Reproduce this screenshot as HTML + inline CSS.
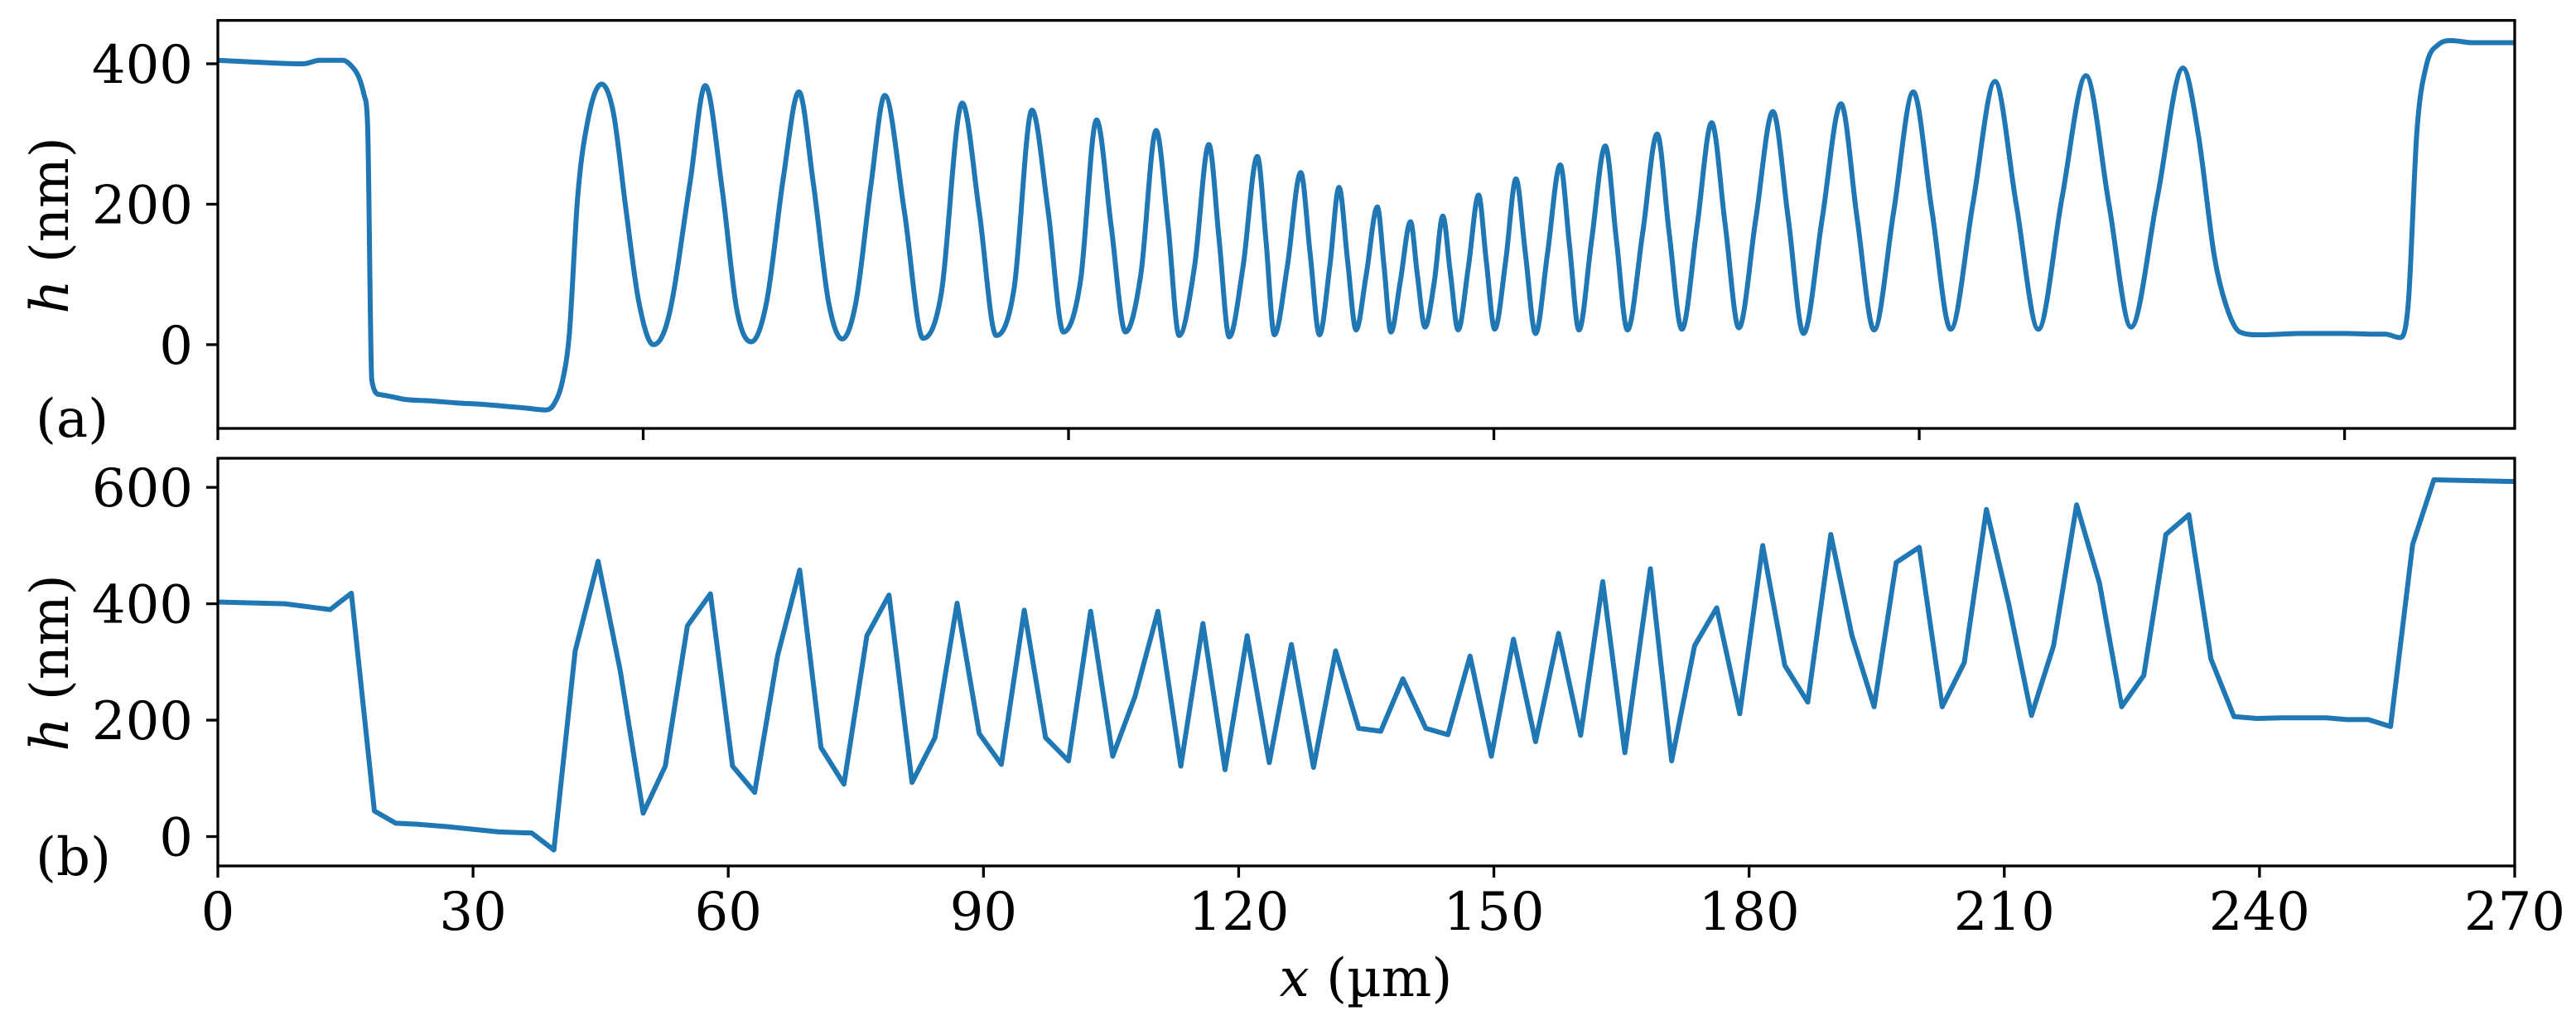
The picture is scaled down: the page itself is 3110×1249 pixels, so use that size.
<!DOCTYPE html>
<html><head><meta charset="utf-8"><style>
html,body{margin:0;padding:0;background:#fff}
text{font-family:"DejaVu Serif","Liberation Serif",serif;font-size:64px;fill:#000}
</style></head><body>
<svg id="fig" width="3110" height="1244" xmlns="http://www.w3.org/2000/svg"></svg>
<script>
// Panel (a): measured profile h(x)
const xA = [0,5,10,12,14.7,15.7,16.6,17.2,17.6,18.1,19,20,22,25,28,31,34,36,38.6,39.5,40.5,41.3,42.3,43.5,45.1,46.5,48,49.5,51.2,53,55.5,57.3,59.3,61,62.7,64.5,66.5,68.3,70,71.8,73.4,75,76.8,78.4,80.7,82.9,85,87.5,89.5,91.5,93.6,95.7,97.6,99.4,101.4,103.3,105,106.7,108.5,110.3,111.7,113,114.8,116.5,117.7,118.9,120.5,122.2,123.2,124.2,125.7,127.3,128.4,129.5,130.7,131.8,132.8,133.8,135,136.3,137.1,137.9,139,140.2,141,141.9,143,144,144.9,145.8,147,148.2,149.1,150.1,151.4,152.6,153.7,154.9,156.3,157.8,158.9,160,161.5,163.1,164.4,165.7,167.5,169.2,170.6,172.1,173.9,175.6,177.2,178.8,180.8,182.8,184.6,186.4,188.6,190.8,192.7,194.7,197,199.3,201.5,203.7,206.3,208.9,211.4,214,216.8,219.6,222.3,224.9,228,231,232.8,234.7,236.1,237.7,240,245,250,253,254.8,256.5,257.5,258.5,259.6,261,262.6,265,270];
const hA = [405,402,400,405,405,397,380,355,313,-51,-71,-73,-78,-80,-83,-85,-88,-90,-93,-85,-52,13,210,320,371,330,190,60,0,40,230,369,220,50,4,60,240,360,230,60,8,60,230,355,190,9,70,344,190,13,80,334,190,18,90,320,170,18,100,305,170,13,110,285,150,11,110,268,150,14,110,245,130,14,110,224,120,21,100,196,110,18,90,175,100,25,90,183,100,21,110,213,120,22,120,236,130,16,130,256,140,21,150,283,150,21,160,300,160,22,170,316,170,24,180,332,180,16,180,343,180,21,190,360,190,22,200,375,200,22,210,383,200,25,210,394,300,125,55,18,14,16,16,15,15,10,60,303,397,427,433,430,430];
// Panel (b): reconstructed profile h(x)
const xB = [0,7.9,13.2,15.7,18.4,20.9,23.6,27,33,36.9,39.5,42,44.7,47.3,50,52.6,55.2,57.9,60.5,63.1,65.8,68.4,70.9,73.6,76.3,78.9,81.6,84.3,86.9,89.5,92.1,94.8,97.3,100,102.6,105.2,107.8,110.5,113.2,115.8,118.4,121,123.6,126.2,128.8,131.4,134.1,136.7,139.3,142,144.6,147.2,149.7,152.3,154.9,157.6,160.2,162.8,165.4,168.4,170.9,173.6,176.2,178.9,181.6,184.2,186.9,189.6,192.1,194.7,197.3,200,202.7,205.3,207.9,210.5,213.2,215.8,218.5,221.2,223.8,226.4,229,231.7,234.3,237,239.7,242.5,245.2,247.9,250.3,252.8,255.4,258,260.5,270];
const hB = [403,400,390,418,44,23,21,17,8,6,-23,319,473,285,40,121,362,417,121,76,311,458,153,90,345,415,93,170,401,177,124,389,170,130,387,138,240,387,121,366,115,345,127,330,119,319,186,181,271,186,175,310,138,339,163,349,174,438,144,460,130,328,393,211,500,294,231,519,345,223,471,497,223,299,562,401,208,328,570,435,223,277,519,553,305,206,203,204,204,204,201,201,189,502,613,610];
const xTicksA = [0,50,100,150,200,250];
const xTicksB = [0,30,60,90,120,150,180,210,240,270];
const yTicksA = [0,200,400];
const yTicksB = [0,200,400,600];

const NS='http://www.w3.org/2000/svg', svg=document.getElementById('fig');
function mk(tag,attrs,parent){const e=document.createElementNS(NS,tag);for(const k in attrs)e.setAttribute(k,attrs[k]);(parent||svg).appendChild(e);return e;}
const L=263,R=3036;
const sx=x=>L+(x-0)/(270-0)*(R-L);
const panels=[
 {name:'a',top:24.6,bot:517,ymin:-119.3,ymax:461.8,xs:xA,hs:hA,xt:xTicksA,yt:yTicksA,lab:'(a)',labY:527,ylabY:272,smooth:true,xl:false},
 {name:'b',top:553,bot:1045,ymin:-50.5,ymax:650,xs:xB,hs:hB,xt:xTicksB,yt:yTicksB,lab:'(b)',labY:1056,ylabY:800,smooth:false,xl:true}
];
panels.forEach(p=>{
 const sy=h=>p.bot-(h-p.ymin)/(p.ymax-p.ymin)*(p.bot-p.top);
 const g=mk('g',{});
 
 
 const P=p.xs.map((x,i)=>[sx(x),sy(p.hs[i])]);
 let d='M'+P[0][0].toFixed(1)+','+P[0][1].toFixed(1);
 if(p.smooth){
  const n=P.length,m=[];
  const dl=[];for(let i=0;i<n-1;i++)dl.push((P[i+1][1]-P[i][1])/(P[i+1][0]-P[i][0]));
  for(let i=0;i<n;i++){
   if(i==0)m.push(dl[0]);else if(i==n-1)m.push(dl[n-2]);
   else m.push(dl[i-1]*dl[i]<=0?0:(dl[i-1]+dl[i])/2);
  }
  for(let i=0;i<n-1;i++){
   if(dl[i]==0){m[i]=0;m[i+1]=0;continue;}
   const a=m[i]/dl[i],b=m[i+1]/dl[i],s=a*a+b*b;
   if(s>9){const t=3/Math.sqrt(s);m[i]=t*a*dl[i];m[i+1]=t*b*dl[i];}
  }
  for(let i=0;i<n-1;i++){
   const h=(P[i+1][0]-P[i][0])/3;
   d+=' C'+(P[i][0]+h).toFixed(1)+','+(P[i][1]+m[i]*h).toFixed(1)+' '+(P[i+1][0]-h).toFixed(1)+','+(P[i+1][1]-m[i+1]*h).toFixed(1)+' '+P[i+1][0].toFixed(1)+','+P[i+1][1].toFixed(1);
  }
 } else {
  for(let i=1;i<P.length;i++)d+=' L'+P[i][0].toFixed(1)+','+P[i][1].toFixed(1);
 }
 const cp=mk('clipPath',{id:'clip'+p.name},g);
 mk('rect',{x:L,y:p.top,width:R-L,height:p.bot-p.top},cp);
 const line=mk('path',{d:d,fill:'none',stroke:'#1f77b4','stroke-width':6,'stroke-linejoin':'round','stroke-linecap':'square','clip-path':'url(#clip'+p.name+')'},g);
 
 
 const fr=mk('rect',{x:L,y:p.top,width:R-L,height:p.bot-p.top,fill:'none',stroke:'#000','stroke-width':3.3},g);
 
 
 p.yt.forEach(v=>{
  const y=sy(v);
  const t=mk('line',{x1:L-14,x2:L,y1:y,y2:y,stroke:'#000','stroke-width':3.3},g);
  
  
  const tx=mk('text',{x:233,y:y+23,'text-anchor':'end'},g);tx.textContent=v;
  
  
 });
 p.xt.forEach(v=>{
  const x=sx(v);
  const t=mk('line',{x1:x,x2:x,y1:p.bot,y2:p.bot+14,stroke:'#000','stroke-width':3.3},g);
  
  
  if(p.xl){const tx=mk('text',{x:x,y:1122,'text-anchor':'middle'},g);tx.textContent=v;
   
   }
 });
 const yl=mk('text',{x:0,y:0,transform:'translate(82,'+p.ylabY+') rotate(-90)','text-anchor':'middle'},g);
 yl.innerHTML='<tspan font-style="italic">h</tspan> (nm)';
 
 
 const lb=mk('text',{x:43,y:p.labY},g);lb.textContent=p.lab;
 
 
});
const xl=mk('text',{x:1649,y:1202,'text-anchor':'middle'});
xl.innerHTML='<tspan font-style="italic">x</tspan> (µm)';


</script>
</body></html>
